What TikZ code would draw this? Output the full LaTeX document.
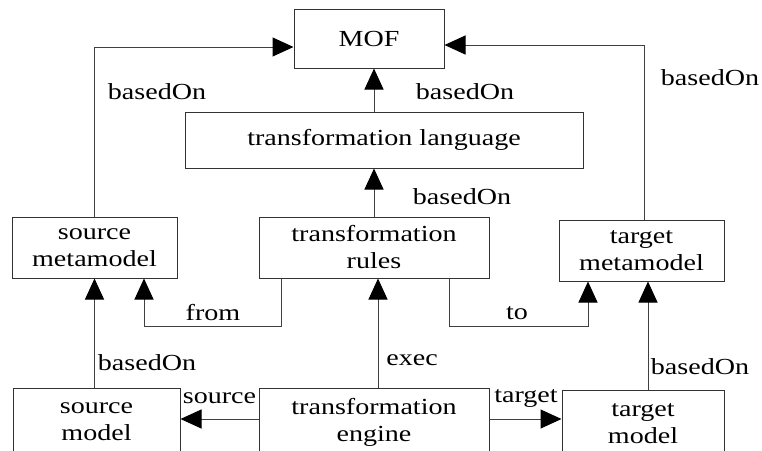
\documentclass[tikz,border=0pt]{standalone}
\usepackage{fontspec}
\setmainfont{Liberation Serif}[FakeStretch=1.22]
\usetikzlibrary{arrows.meta}
\begin{document}
\begin{tikzpicture}[x=1pt,y=-1pt,
  every node/.style={font=\fontsize{23}{27}\selectfont},
  box/.style={draw=black!80,line width=1pt,align=center,inner sep=0pt,fill=white},
  arr/.style={draw=black!75,line width=1pt,-{Triangle[length=21pt,width=19pt,color=black,fill=black]}},
  lbl/.style={inner sep=0pt,anchor=center}]
\useasboundingbox (0,0) rectangle (762,450);
\clip (0,0) rectangle (762,450);
% boxes
\node[box,minimum width=150pt,minimum height=59pt] (MOF) at (369,38.5) {MOF};
\node[box,minimum width=398pt,minimum height=56pt] (lang) at (384,140) {transformation language};
\node[box,minimum width=165pt,minimum height=61pt] (srcmeta) at (94.5,247.5) {source\\metamodel};
\node[box,minimum width=230pt,minimum height=61pt] (rules) at (374,247.5) {transformation\\rules};
\node[box,minimum width=165pt,minimum height=61pt] (tgtmeta) at (641.5,250.5) {target\\metamodel};
\node[box,minimum width=167pt,minimum height=68pt] (srcmodel) at (96.5,422) {source\\model};
\node[box,minimum width=230pt,minimum height=68pt] (engine) at (374,422) {transformation\\engine};
\node[box,minimum width=162pt,minimum height=68pt] (tgtmodel) at (643,424) {target\\model};
% connectors
\draw[arr] (srcmeta.north) |- ([yshift=-8.5pt]MOF.west);
\draw[arr] ([xshift=2.5pt]tgtmeta.north) |- ([yshift=-6.5pt]MOF.east);
\draw[arr] (lang.north -| rules.north) -- (MOF.south -| rules.north);
\draw[arr] (rules.north) -- (lang.south -| rules.north);
\draw[arr] ([xshift=4pt]engine.north) -- ([xshift=4pt]rules.south);
\draw[arr] ([xshift=-93pt]rules.south) -- ++(0,48) -| ([xshift=49.5pt]srcmeta.south);
\draw[arr] ([xshift=75pt]rules.south) -- ++(0,48) -| ([xshift=-53.5pt]tgtmeta.south);
\draw[arr] (srcmodel.north -| srcmeta.south) -- (srcmeta.south);
\draw[arr] ([xshift=5pt]tgtmodel.north) -- ([xshift=6.5pt]tgtmeta.south);
\draw[arr] ([yshift=3pt]engine.west) -- ([yshift=3pt]srcmodel.east);
\draw[arr] ([yshift=3pt]engine.east) -- ([yshift=5pt]tgtmodel.west);
% labels
\node[lbl] (l1) at (157,92) {basedOn};
\node[lbl] (l2) at (465,92) {basedOn};
\node[lbl] (l3) at (710,78) {basedOn};
\node[lbl] (l4) at (462,197) {basedOn};
\node[lbl] (l5) at (213,313) {from};
\node[lbl] (l6) at (517,313) {to};
\node[lbl] (l7) at (147,363) {basedOn};
\node[lbl] (l8) at (412,360) {exec};
\node[lbl] (l9) at (700,367) {basedOn};
\node[lbl] (l10) at (219.5,398) {source};
\node[lbl] (l11) at (526,398) {target};
\end{tikzpicture}
\end{document}
